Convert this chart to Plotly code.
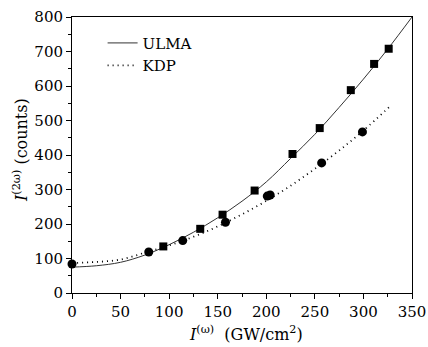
import plotly.graph_objects as go

ulma_x = [94, 132, 155, 188, 227, 255, 287, 311, 326]
ulma_y = [135, 186, 227, 297, 403, 478, 588, 664, 708]
kdp_x = [0, 79, 114, 158, 201, 204, 257, 299]
kdp_y = [84, 119, 152, 205, 281, 284, 377, 467]

# Fitted curves
ulma_fit_x = [0, 25, 50, 75, 100, 125, 150, 175, 200, 225, 250, 275, 300, 325, 350]
ulma_fit_y = [75, 79, 89, 110, 140, 176, 218, 266, 322, 390, 460, 538, 620, 707, 800]
kdp_fit_x = [0, 25, 50, 75, 100, 125, 150, 175, 200, 225, 250, 275, 300, 328]
kdp_fit_y = [87, 90, 97, 117, 138, 163, 193, 228, 267, 311, 360, 413, 471, 543]

x_ticks = [0, 50, 100, 150, 200, 250, 300, 350]
y_ticks = [0, 100, 200, 300, 400, 500, 600, 700, 800]

x_title = "<i>I</i><sup>(ω)</sup>\u00a0\u00a0(GW/cm<sup>2</sup>)"
y_title = "<i>I</i><sup>(2ω)</sup> (counts)"

FONT = "DejaVu Serif"

fig = go.Figure()
fig.add_trace(go.Scatter(x=ulma_fit_x, y=ulma_fit_y, mode="lines", name="ULMA",
                         line=dict(color="#333333", width=1, shape="spline")))
fig.add_trace(go.Scatter(x=kdp_fit_x, y=kdp_fit_y, mode="lines", name="KDP",
                         line=dict(color="black", width=1.8, dash="1px,4px", shape="spline")))
fig.add_trace(go.Scatter(x=ulma_x, y=ulma_y, mode="markers", showlegend=False,
                         marker=dict(symbol="square", size=8, color="black"), cliponaxis=False))
fig.add_trace(go.Scatter(x=kdp_x, y=kdp_y, mode="markers", showlegend=False,
                         marker=dict(symbol="circle", size=9, color="black"), cliponaxis=False))

axis_common = dict(showgrid=False, zeroline=False, showline=True, linecolor="black",
                   linewidth=1, mirror=True, ticks="outside", ticklen=5, tickwidth=1,
                   tickcolor="black", automargin=False,
                   tickfont=dict(family=FONT, size=15, color="black"))

fig.update_xaxes(range=[0, 350], tickvals=x_ticks,
                 minor=dict(dtick=25, ticks="outside", ticklen=3, tickcolor="black"),
                 **axis_common)
fig.update_yaxes(range=[0, 800], tickvals=y_ticks,
                 minor=dict(dtick=50, ticks="outside", ticklen=3, tickcolor="black"),
                 **axis_common)

fig.add_annotation(text=x_title, xref="paper", yref="paper", x=0.512, y=0,
                   xanchor="center", yanchor="middle", yshift=-40, showarrow=False,
                   font=dict(family=FONT, size=16, color="black"))
fig.add_annotation(text=y_title, xref="paper", yref="paper", x=0, y=0.5,
                   xanchor="center", yanchor="middle", xshift=-52, yshift=5,
                   textangle=-90, showarrow=False,
                   font=dict(family=FONT, size=16, color="black"))

fig.update_layout(
    width=428, height=347,
    margin=dict(l=72, r=16, t=17, b=54),
    paper_bgcolor="white", plot_bgcolor="white",
    legend=dict(x=0.09, y=0.965, xanchor="left", yanchor="top",
                bgcolor="rgba(0,0,0,0)", font=dict(family=FONT, size=15, color="black"),
                itemwidth=30, tracegroupgap=0),
)

fig.write_html(
    "out.html",
    config={"displayModeBar": False},
    post_script="document.body.style.margin='0';document.body.style.overflow='hidden';",
)
